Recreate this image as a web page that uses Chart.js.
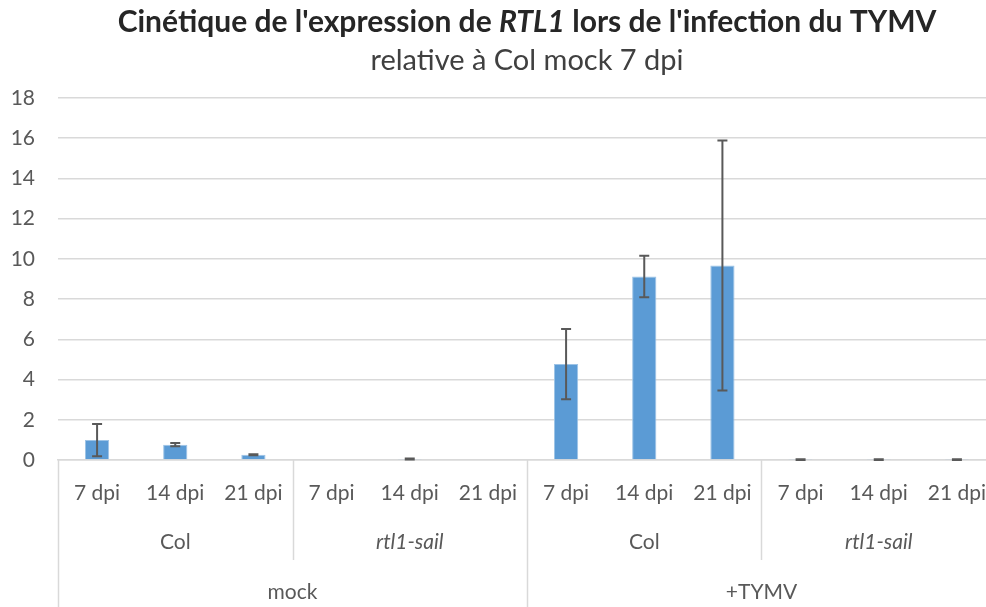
<!DOCTYPE html>
<html>
<head>
<meta charset="utf-8">
<script src="https://cdn.jsdelivr.net/npm/chart.js@4.4.1/dist/chart.umd.min.js"></script>
<style>
html,body{margin:0;padding:0;background:#fff;overflow:hidden;}
#wrap{width:986px;height:607px;position:relative;}
</style>
</head>
<body>
<div id="wrap"><canvas id="c" width="986" height="607"></canvas></div>
<script>
// ---- data ----
const dpiLabels = ['7 dpi','14 dpi','21 dpi','7 dpi','14 dpi','21 dpi','7 dpi','14 dpi','21 dpi','7 dpi','14 dpi','21 dpi'];
const genotypes = ['Col','rtl1-sail','Col','rtl1-sail'];
const treatments = ['mock','+TYMV'];
const values = [0.99, 0.76, 0.26, 0, 0.05, 0, 4.77, 9.12, 9.67, 0.02, 0.02, 0.02];
const errors = [0.80, 0.08, 0.03, 0, 0.03, 0, 1.75, 1.03, 6.22, 0.02, 0.02, 0.02];
const yTicks = [0,2,4,6,8,10,12,14,16,18];
const titleParts = [['Cinétique de l\'expression de ', false], ['RTL1', true], [' lors de l\'infection du TYMV', false]];
const subtitle = 'relative à Col mock 7 dpi';

const FONT = 'Lato, "Open Sans", sans-serif';
const TXT = '#595959';
const PLOT_RIGHT = 996; // plot area runs past the right edge of the picture

const extendRight = {
  id: 'extendRight',
  afterLayout(chart) {
    const x = chart.scales.x;
    chart.chartArea.right = PLOT_RIGHT;
    chart.chartArea.width = PLOT_RIGHT - chart.chartArea.left;
    x.right = PLOT_RIGHT;
    x.width = PLOT_RIGHT - x.left;
    x.configure();
    const y = chart.scales.y;
    y.configure();
  }
};

const overlay = {
  id: 'overlay',
  afterDatasetsDraw(chart) {
    const ctx = chart.ctx, x = chart.scales.x, y = chart.scales.y;
    const ca = chart.chartArea;
    ctx.save();
    // error bars
    ctx.strokeStyle = '#595959';
    ctx.lineWidth = 2;
    values.forEach((v, i) => {
      const e = errors[i];
      if (!e) return;
      const cx = x.getPixelForValue(i);
      const t = y.getPixelForValue(v + e), b = y.getPixelForValue(v - e);
      ctx.beginPath();
      ctx.moveTo(cx, t); ctx.lineTo(cx, b);
      ctx.moveTo(cx - 5, t); ctx.lineTo(cx + 5, t);
      ctx.moveTo(cx - 5, b); ctx.lineTo(cx + 5, b);
      ctx.stroke();
    });
    // separators
    const half = (x.getPixelForValue(1) - x.getPixelForValue(0)) / 2;
    const edge = i => x.getPixelForValue(i) - half;
    ctx.strokeStyle = '#d9d9d9';
    ctx.lineWidth = 1.5;
    [0,3,6,9,12].forEach(k => {
      const px = Math.round(edge(k)) + 0.5;
      const bottom = (k % 6 === 0) ? chart.height : 560;
      ctx.beginPath(); ctx.moveTo(px, ca.bottom); ctx.lineTo(px, bottom); ctx.stroke();
    });
    // group labels
    ctx.fillStyle = TXT;
    ctx.textAlign = 'center';
    ctx.textBaseline = 'middle';
    genotypes.forEach((g, j) => {
      const cx = (edge(j*3) + edge(j*3+3)) / 2;
      ctx.font = (g === 'Col' ? '' : 'italic ') + '21px ' + FONT;
      ctx.fillText(g, cx, 542);
    });
    treatments.forEach((t, j) => {
      const cx = (edge(j*6) + edge(j*6+6)) / 2;
      ctx.font = '21px ' + FONT;
      ctx.fillText(t, cx, 592);
    });
    // titles
    const mid = (ca.left + ca.right) / 2;
    ctx.fillStyle = '#262626';
    ctx.textAlign = 'left';
    ctx.textBaseline = 'middle';
    let total = 0;
    titleParts.forEach(([s, it]) => { ctx.font = (it ? 'italic ' : '') + 'bold 30px ' + FONT; total += ctx.measureText(s).width; });
    let px = mid - total / 2;
    titleParts.forEach(([s, it]) => {
      ctx.font = (it ? 'italic ' : '') + 'bold 30px ' + FONT;
      ctx.fillText(s, px, 22);
      px += ctx.measureText(s).width;
    });
    ctx.fillStyle = '#404040';
    ctx.textAlign = 'center';
    ctx.font = '29px ' + FONT;
    ctx.fillText(subtitle, mid, 61);
    ctx.restore();
  }
};

new Chart(document.getElementById('c'), {
  type: 'bar',
  data: {
    labels: dpiLabels,
    datasets: [{
      data: values,
      backgroundColor: '#5b9bd5',
      borderColor: '#9dc3e6',
      borderWidth: 1,
      barPercentage: 0.31,
      categoryPercentage: 1
    }]
  },
  options: {
    responsive: false,
    animation: false,
    layout: { padding: { top: 98, right: 0, left: 0, bottom: 0 } },
    plugins: { legend: { display: false }, tooltip: { enabled: false }, title: { display: false } },
    scales: {
      x: {
        grid: { display: false, drawTicks: false },
        border: { display: true, color: '#d9d9d9', width: 1.5 },
        ticks: { color: TXT, font: { family: FONT, size: 21 }, padding: 21, maxRotation: 0, autoSkip: false },
        afterFit(s) { s.height = 147; }
      },
      y: {
        min: 0, max: 18,
        afterBuildTicks(s) { s.ticks = yTicks.map(v => ({ value: v })); },
        grid: { color: '#d9d9d9', lineWidth: 1.5, drawTicks: false },
        border: { display: false },
        ticks: { color: TXT, font: { family: FONT, size: 21 }, padding: 23 },
        afterFit(s) { s.width = 58; }
      }
    }
  },
  plugins: [extendRight, overlay]
});
</script>
</body>
</html>
